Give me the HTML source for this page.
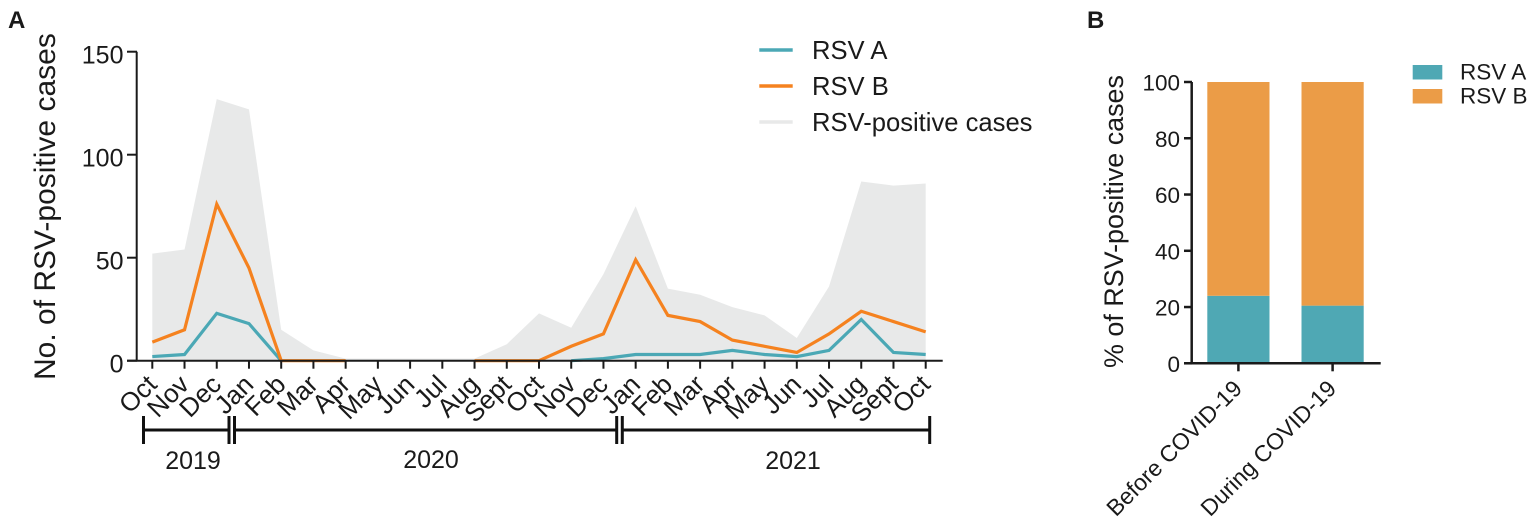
<!DOCTYPE html>
<html lang="en">
<head>
<meta charset="utf-8">
<title>RSV-positive cases</title>
<style>
html,body{margin:0;padding:0;background:#fff;width:1535px;height:526px;overflow:hidden}
svg{display:block;font-family:"Liberation Sans",Arial,sans-serif;fill:#1a1a1a}
</style>
</head>
<body>
<svg id="chart" xmlns="http://www.w3.org/2000/svg" width="1535" height="526" viewBox="0 0 1535 526">
  <text x="8" y="28" font-size="24" font-weight="bold">A</text>
  <text x="1087" y="28" font-size="24" font-weight="bold">B</text>
  <g id="panelA"></g>
  <g id="panelB"></g>
  <text transform="translate(55,380) rotate(-90)" font-size="30">No. of RSV-positive cases</text>
  <text transform="translate(1123,368) rotate(-90)" font-size="26.9">% of RSV-positive cases</text>

  <g stroke="#111" stroke-width="3" fill="none">
    <path d="M143.5 416V444M143.5 430H229M229 416V444"/>
    <path d="M234.5 416V444M234.5 430H616.7M616.7 416V444"/>
    <path d="M622.3 416V444M622.3 430H929.7M929.7 416V444"/>
  </g>
  <text x="193" y="469" font-size="25" text-anchor="middle">2019</text>
  <text x="431" y="468" font-size="25" text-anchor="middle">2020</text>
  <text x="793" y="469" font-size="25" text-anchor="middle">2021</text>

  <g>
    <line x1="759.3" x2="792.7" y1="50" y2="50" stroke="#4ba8b5" stroke-width="3.4"/>
    <text x="812" y="59.2" font-size="25.6">RSV A</text>
    <line x1="759.3" x2="792.7" y1="86" y2="86" stroke="#f5821f" stroke-width="3.4"/>
    <text x="812" y="95" font-size="25.6">RSV B</text>
    <line x1="759.3" x2="792.7" y1="122" y2="122" stroke="#e8e9e9" stroke-width="3.4"/>
    <text x="812" y="131" font-size="25.6">RSV-positive cases</text>
  </g>

  <g>
    <rect x="1412.7" y="65" width="29.6" height="14.5" fill="#4fa8b4"/>
    <text x="1460" y="79.3" font-size="22.5">RSV A</text>
    <rect x="1412.7" y="89" width="29.6" height="14.5" fill="#eb9c47"/>
    <text x="1460" y="103.3" font-size="22.5">RSV B</text>
  </g>
</svg>
<script>
// Panel A data
const months = ["Oct","Nov","Dec","Jan","Feb","Mar","Apr","May","Jun","Jul","Aug","Sept","Oct","Nov","Dec","Jan","Feb","Mar","Apr","May","Jun","Jul","Aug","Sept","Oct"];
const totalCases = [52,54,127,122,15,5,1,1,1,1,1,8,23,16,42,75,35,32,26,22,11,36,87,85,86];
const rsvA = [2,3,23,18,0,null,null,null,null,null,null,null,null,0,1,3,3,3,5,3,2,5,20,4,3];
const rsvB = [9,15,76,45,0,0,0,null,null,null,0,0,0,7,13,49,22,19,10,7,4,13,24,19,14];
const lineTicks = [0,50,100,150];

// Panel B data
const periods = ["Before COVID-19","During COVID-19"];
const pctA = [24,20.5];
const pctB = [76,79.5];
const pctTicks = [0,20,40,60,80,100];

const NS = "http://www.w3.org/2000/svg";
function make(tag, parent){
  const el = document.createElementNS(NS, tag);
  parent.appendChild(el);
  return el;
}

// Panel A
const gA = document.getElementById("panelA");
const xA = i => 152.3 + i * (925.7 - 152.3) / (months.length - 1);
const yA = v => 360.7 - v * (360.7 - 51.7) / 150;

const areaD = "M" + xA(0) + " " + yA(0) + totalCases.map((v,i) => "L" + xA(i) + " " + yA(v)).join("") + "L" + xA(totalCases.length - 1) + " " + yA(0) + "Z";
const area = make("path", gA);


area.setAttribute("d", areaD);
area.setAttribute("fill", "#e8e9e9");

function linePath(values){
  let d = "", pen = false;
  values.forEach((v,i) => {
    if (v === null) { pen = false; return; }
    d += (pen ? "L" : "M") + xA(i) + " " + yA(v);
    pen = true;
  });
  return d;
}
const lineA = make("path", gA);


lineA.setAttribute("d", linePath(rsvA));
lineA.setAttribute("fill", "none");
lineA.setAttribute("stroke", "#4ba8b5");
lineA.setAttribute("stroke-width", "3.2");

const lineB = make("path", gA);


lineB.setAttribute("d", linePath(rsvB));
lineB.setAttribute("fill", "none");
lineB.setAttribute("stroke", "#f5821f");
lineB.setAttribute("stroke-width", "3.2");

const axisYA = make("path", gA);


axisYA.setAttribute("d", "M136.7 " + yA(150) + "V" + yA(0));
axisYA.setAttribute("stroke", "#1a1a1a");
axisYA.setAttribute("stroke-width", "2");

const axisXA = make("path", gA);


axisXA.setAttribute("d", "M127 " + yA(0) + "H942.7");
axisXA.setAttribute("stroke", "#1a1a1a");
axisXA.setAttribute("stroke-width", "2");

lineTicks.forEach(t => {
  const tick = make("path", gA);
  
  
  tick.setAttribute("d", "M127 " + yA(t) + "H137");
  tick.setAttribute("stroke", "#1a1a1a");
  tick.setAttribute("stroke-width", "2");
  const label = make("text", gA);
  
  
  label.setAttribute("x", "123.5");
  label.setAttribute("y", yA(t) + 12);
  label.setAttribute("font-size", "25");
  label.setAttribute("text-anchor", "end");
  label.textContent = t;
});

months.forEach((m,i) => {
  const tick = make("path", gA);
  
  
  tick.setAttribute("d", "M" + xA(i) + " " + yA(0) + "V" + (yA(0) + 8));
  tick.setAttribute("stroke", "#1a1a1a");
  tick.setAttribute("stroke-width", "2");
  const label = make("text", gA);
  
  
  label.setAttribute("transform", "translate(" + (xA(i) + 6) + ",386) rotate(-45)");
  label.setAttribute("font-size", "26");
  label.setAttribute("text-anchor", "end");
  label.textContent = m;
});

// Panel B
const gB = document.getElementById("panelB");
const yB = v => 363.3 - v * (363.3 - 82) / 100;
const barLefts = i => 1207.3 + i * 94.2;
const barWidth = 62.2;

periods.forEach((p,i) => {
  const barA = make("rect", gB);
  
  
  barA.setAttribute("x", barLefts(i));
  barA.setAttribute("y", yB(pctA[i]));
  barA.setAttribute("width", barWidth);
  barA.setAttribute("height", yB(0) - yB(pctA[i]));
  barA.setAttribute("fill", "#4fa8b4");
  const barB = make("rect", gB);
  
  
  barB.setAttribute("x", barLefts(i));
  barB.setAttribute("y", yB(pctA[i] + pctB[i]));
  barB.setAttribute("width", barWidth);
  barB.setAttribute("height", yB(pctA[i]) - yB(pctA[i] + pctB[i]));
  barB.setAttribute("fill", "#eb9c47");
  const cx = barLefts(i) + barWidth / 2;
  const tick = make("path", gB);
  
  
  tick.setAttribute("d", "M" + cx + " " + yB(0) + "V" + (yB(0) + 8));
  tick.setAttribute("stroke", "#1a1a1a");
  tick.setAttribute("stroke-width", "2.5");
  const label = make("text", gB);
  
  
  label.setAttribute("transform", "translate(" + (cx + 5) + ",390) rotate(-45)");
  label.setAttribute("font-size", "23");
  label.setAttribute("text-anchor", "end");
  label.textContent = p;
});

const axisYB = make("path", gB);


axisYB.setAttribute("d", "M1191.7 " + yB(100) + "V" + yB(0));
axisYB.setAttribute("stroke", "#1a1a1a");
axisYB.setAttribute("stroke-width", "2.5");

const axisXB = make("path", gB);


axisXB.setAttribute("d", "M1184 " + yB(0) + "H1380.7");
axisXB.setAttribute("stroke", "#1a1a1a");
axisXB.setAttribute("stroke-width", "2.5");

pctTicks.forEach(t => {
  const tick = make("path", gB);
  
  
  tick.setAttribute("d", "M1184 " + yB(t) + "H1192");
  tick.setAttribute("stroke", "#1a1a1a");
  tick.setAttribute("stroke-width", "2.5");
  const label = make("text", gB);
  
  
  label.setAttribute("x", "1180");
  label.setAttribute("y", yB(t) + 8.5);
  label.setAttribute("font-size", "22.5");
  label.setAttribute("text-anchor", "end");
  label.textContent = t;
});
</script>
</body>
</html>
